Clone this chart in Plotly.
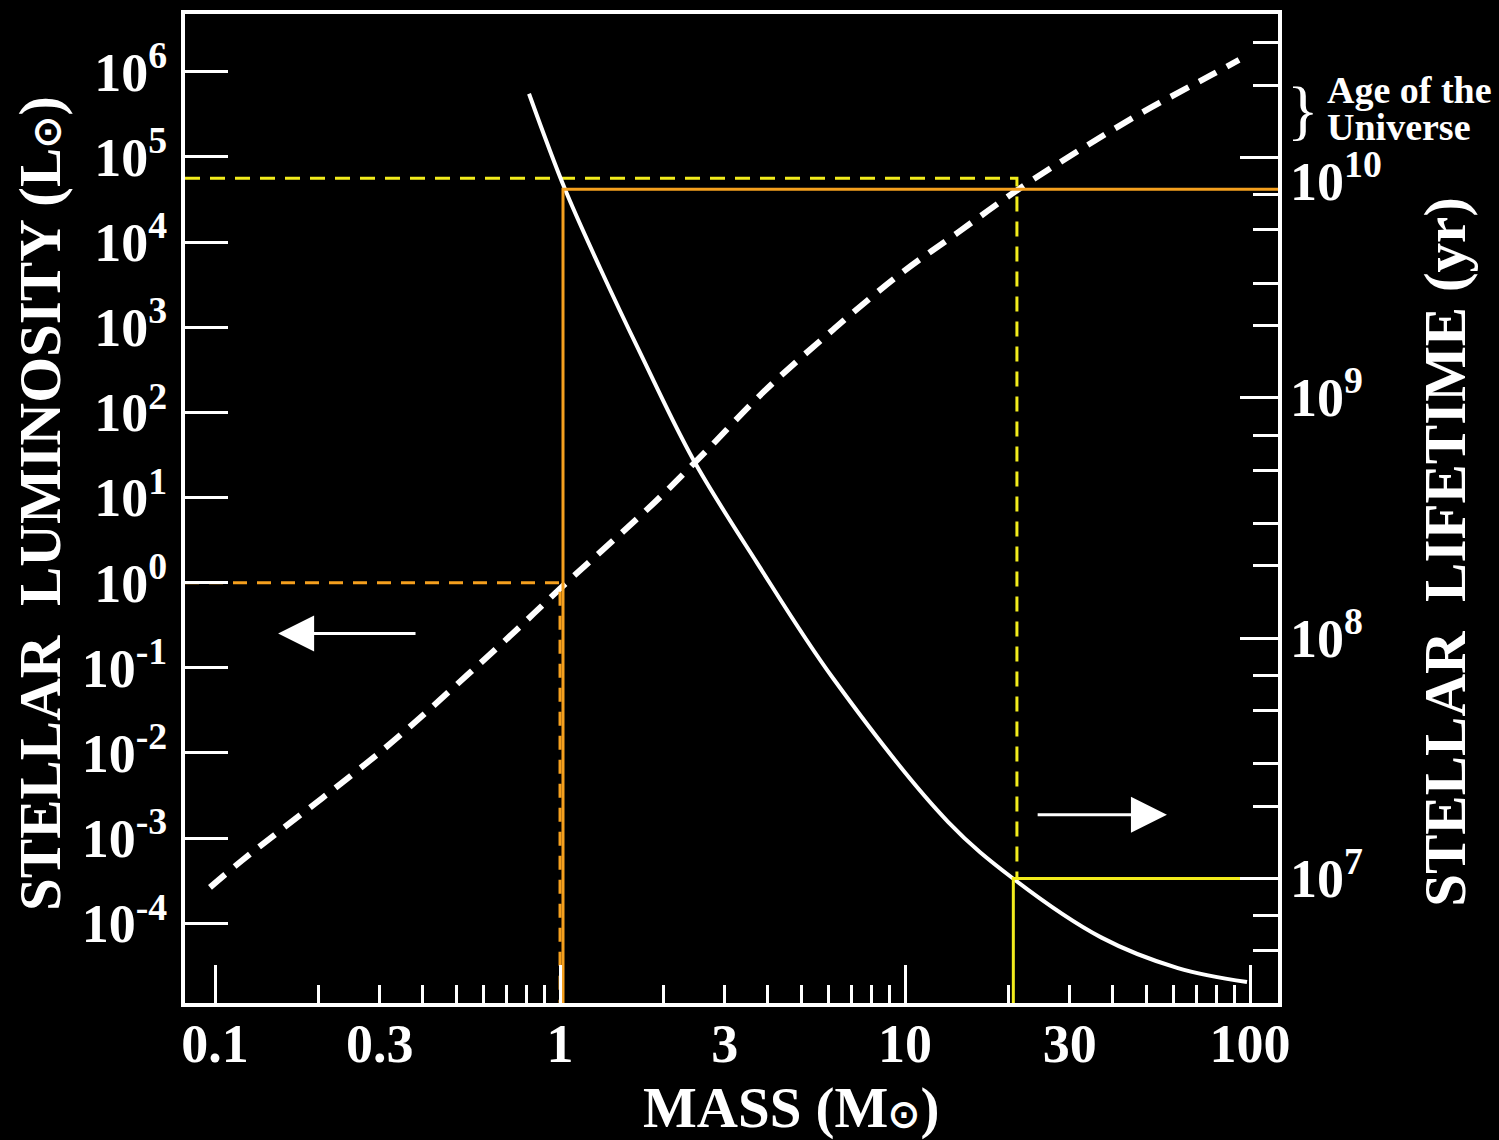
import math
import plotly.graph_objects as go

# ---------------- data ----------------
# Luminosity vs mass (dashed white curve, left axis)
lum_mass = [0.0967, 0.1197, 0.3111, 0.5413, 0.7557, 1.0, 1.885, 2.633, 3.876,
            6.185, 9.607, 14.15, 21.54, 31.94, 48.64, 76.6, 92.9]
lum_values = [2.64e-4, 5.46e-4, 0.01143, 0.0839, 0.290, 0.851, 8.86, 34.1, 171.4,
              935, 4111, 12740, 42850, 1.191e5, 3.314e5, 8.98e5, 1.38e6]

# Main-sequence lifetime vs mass (solid white curve, right axis)
life_mass = [0.813, 1.034, 1.306, 1.706, 2.430, 3.724, 6.185, 13.32, 20.56,
             37.0, 61.8, 98.0]
life_values = [1.842e10, 7.37e9, 3.47e9, 1.541e9, 5.55e8, 2.058e8, 6.81e7,
               1.722e7, 1.0e7, 5.69e6, 4.24e6, 3.71e6]

# Guide values
sun_mass_dashed = 1.0
sun_mass_solid = 1.02
sun_lum = 1.0
sun_life = 7.37e9
massive_mass_dashed = 21.1
massive_mass_solid = 20.6
massive_lum = 5.6e4
massive_life = 1.0e7

# Tick values / labels
x_label_vals = [0.1, 0.3, 1, 3, 10, 30, 100]
x_label_text = ["0.1", "0.3", "1", "3", "10", "30", "100"]
x_major_vals = [0.1, 1, 10, 100]
x_minor_vals = [m * d for d in (0.1, 1, 10) for m in range(2, 10)]

y_tick_vals = [1e-4, 1e-3, 1e-2, 1e-1, 1e0, 1e1, 1e2, 1e3, 1e4, 1e5, 1e6]
y_tick_text = ["10<sup>-4</sup>", "10<sup>-3</sup>", "10<sup>-2</sup>", "10<sup>-1</sup>",
               "10<sup>0</sup>", "10<sup>1</sup>", "10<sup>2</sup>", "10<sup>3</sup>",
               "10<sup>4</sup>", "10<sup>5</sup>", "10<sup>6</sup>"]

y2_tick_vals = [1e7, 1e8, 1e9, 1e10]
y2_tick_text = ["10<sup>7</sup>", "10<sup>8</sup>", "10<sup>9</sup>", "10<sup>10</sup>"]
y2_minor_vals = [m * d for d in (1e6, 1e7, 1e8, 1e9, 1e10) for m in (2, 3, 5, 7)]

# ---------------- axis ranges (log10) ----------------
X_RANGE = [-1.087, 2.081]
Y_RANGE = [-4.936, 6.678]
Y2_RANGE = [6.482, 10.597]

x_min, x_max = 10 ** X_RANGE[0], 10 ** X_RANGE[1]
y_min = 10 ** Y_RANGE[0]
y2_min = 10 ** Y2_RANGE[0]


def y2_to_y(v):
    """Luminosity-axis value at the same height as lifetime value v."""
    f = (math.log10(v) - Y2_RANGE[0]) / (Y2_RANGE[1] - Y2_RANGE[0])
    return 10 ** (Y_RANGE[0] + f * (Y_RANGE[1] - Y_RANGE[0]))


WHITE = "white"
ORANGE = "#f5a01e"
YELLOW = "#f2ec1c"
FONT = "Liberation Serif"

fig = go.Figure()

# white curves
fig.add_trace(go.Scatter(x=lum_mass, y=lum_values, mode="lines", line_shape="spline",
                         line=dict(color=WHITE, width=6, dash="20px,12px"),
                         xaxis="x", yaxis="y", hoverinfo="skip"))
fig.add_trace(go.Scatter(x=life_mass, y=life_values, mode="lines", line_shape="spline",
                         line=dict(color=WHITE, width=4),
                         xaxis="x", yaxis="y2", hoverinfo="skip"))

# orange guides (Sun)
fig.add_trace(go.Scatter(x=[x_min, sun_mass_dashed, sun_mass_dashed],
                         y=[sun_lum, sun_lum, y_min], mode="lines",
                         line=dict(color=ORANGE, width=3, dash="14px,10px"),
                         xaxis="x", yaxis="y", hoverinfo="skip"))
fig.add_trace(go.Scatter(x=[sun_mass_solid, sun_mass_solid, x_max],
                         y=[y2_min, sun_life, sun_life], mode="lines",
                         line=dict(color=ORANGE, width=3),
                         xaxis="x", yaxis="y2", hoverinfo="skip"))

# yellow guides (massive star)
fig.add_trace(go.Scatter(x=[x_min, massive_mass_dashed, massive_mass_dashed],
                         y=[massive_lum, massive_lum, y2_to_y(massive_life)], mode="lines",
                         line=dict(color=YELLOW, width=3, dash="15px,10px"),
                         xaxis="x", yaxis="y", hoverinfo="skip"))
fig.add_trace(go.Scatter(x=[massive_mass_solid, massive_mass_solid, x_max],
                         y=[y2_min, massive_life, massive_life], mode="lines",
                         line=dict(color=YELLOW, width=3),
                         xaxis="x", yaxis="y2", hoverinfo="skip"))

# invisible trace to register the overlay x axis for long decade ticks
fig.add_trace(go.Scatter(x=[1], y=[1], mode="markers", marker=dict(opacity=0, size=1),
                         xaxis="x2", yaxis="y", hoverinfo="skip"))

tickfont = dict(family=FONT, size=54, color=WHITE, weight="bold")

fig.update_layout(
    width=1499, height=1140,
    margin=dict(l=185, r=221, t=10, b=137),
    paper_bgcolor="black", plot_bgcolor="black",
    showlegend=False,
    xaxis=dict(type="log", range=X_RANGE, tickmode="array", tickvals=x_label_vals,
               ticktext=x_label_text, ticks="", showline=True, linecolor=WHITE,
               linewidth=4, mirror=True, showgrid=False, zeroline=False,
               tickfont=tickfont, ticklabelstandoff=-10,
               minor=dict(tickmode="array", tickvals=x_minor_vals, ticks="inside",
                          ticklen=18, tickwidth=3, tickcolor=WHITE, showgrid=False)),
    xaxis2=dict(type="log", range=X_RANGE, overlaying="x", anchor="y", side="bottom",
                tickmode="array", tickvals=x_major_vals, ticks="inside", ticklen=38,
                tickwidth=3, tickcolor=WHITE, showticklabels=False, showline=False,
                showgrid=False, zeroline=False),
    yaxis=dict(type="log", range=Y_RANGE, tickmode="array", tickvals=y_tick_vals,
               ticktext=y_tick_text, ticks="inside", ticklen=43, tickwidth=3,
               tickcolor=WHITE, showline=True, linecolor=WHITE, linewidth=4,
               mirror=True, showgrid=False, zeroline=False, tickfont=tickfont,
               ticklabelstandoff=3),
    yaxis2=dict(type="log", range=Y2_RANGE, overlaying="y", side="right", anchor="x",
                tickmode="array", tickvals=y2_tick_vals, ticks="inside", ticklen=38,
                tickwidth=3, tickcolor=WHITE, showticklabels=False, showline=False,
                showgrid=False, zeroline=False,
                minor=dict(tickmode="array", tickvals=y2_minor_vals, ticks="inside",
                           ticklen=25, tickwidth=3, tickcolor=WHITE, showgrid=False)),
)

PL, PR, PT, PB = 185, 1278, 10, 1003


def px(x):
    return (x - PL) / (PR - PL)


def py(y):
    return (PB - y) / (PB - PT)


ann = []
# right-axis tick labels
for v, t in zip(y2_tick_vals, y2_tick_text):
    ann.append(dict(text=t, xref="paper", x=1, xanchor="left", xshift=10,
                    yref="y2", y=math.log10(v), yanchor="middle",
                    yshift=(-20 if v == max(y2_tick_vals) else 4),
                    showarrow=False, font=tickfont))

titlefont = dict(family=FONT, size=59, color=WHITE, weight="bold")
ann.append(dict(text='STELLAR\u00a0\u00a0LUMINOSITY (L<span style="font-size:38px">⊙</span>)',
                xref="paper", yref="paper", x=px(40), y=py(502), textangle=-90,
                xanchor="center", yanchor="middle", showarrow=False, font=titlefont))
ann.append(dict(text='STELLAR\u00a0\u00a0LIFETIME (yr)',
                xref="paper", yref="paper", x=px(1445), y=py(550), textangle=-90,
                xanchor="center", yanchor="middle", showarrow=False, font=titlefont))
ann.append(dict(text='MASS (M<span style="font-size:38px">⊙</span>)',
                xref="paper", yref="paper", x=px(791), y=py(1108),
                xanchor="center", yanchor="middle", showarrow=False,
                font=dict(family=FONT, size=57, color=WHITE, weight="bold")))

# Age of the Universe
ann.append(dict(text="}", xref="paper", yref="paper", x=px(1303), y=py(106),
                xanchor="center", yanchor="middle", showarrow=False,
                font=dict(family=FONT, size=66, color=WHITE)))
ann.append(dict(text="Age of the", xref="paper", yref="paper", x=px(1325), y=py(86),
                xanchor="left", yanchor="middle", showarrow=False,
                font=dict(family=FONT, size=38, color=WHITE, weight="bold")))
ann.append(dict(text="Universe", xref="paper", yref="paper", x=px(1325), y=py(123),
                xanchor="left", yanchor="middle", showarrow=False,
                font=dict(family=FONT, size=38, color=WHITE, weight="bold")))

# direction arrows
ann.append(dict(text="", x=-0.817, y=-0.596, ax=-0.4145, ay=-0.596, xref="x", yref="y",
                axref="x", ayref="y", showarrow=True, arrowhead=2, arrowsize=2.4,
                arrowwidth=3, arrowcolor=WHITE))
ann.append(dict(text="", x=1.759, y=-2.725, ax=1.380, ay=-2.725, xref="x", yref="y",
                axref="x", ayref="y", showarrow=True, arrowhead=2, arrowsize=2.4,
                arrowwidth=3, arrowcolor=WHITE))

fig.update_layout(annotations=ann)

fig.write_html("out.html")
